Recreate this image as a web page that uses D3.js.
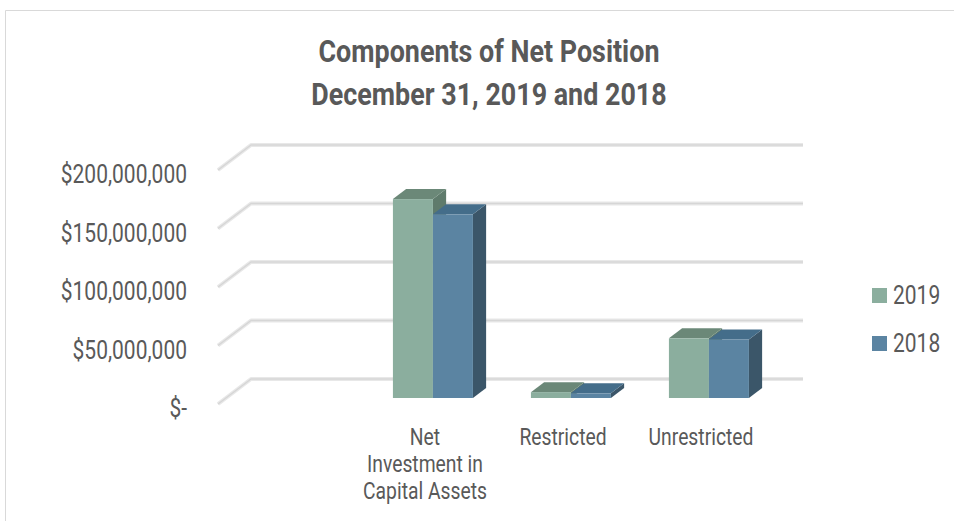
<!DOCTYPE html>
<html>
<head>
<meta charset="utf-8">
<script src="https://cdn.jsdelivr.net/npm/d3@7"></script>
<style>
  html, body { margin: 0; padding: 0; background: #fff; }
  svg { display: block; }
  text { font-family: "Roboto", "Liberation Sans", sans-serif; fill: #595959; }
</style>
</head>
<body>
<svg id="chart" width="954" height="521"></svg>
<script>
// Net position components, in dollars
const categories = ["", "Net Investment in Capital Assets", "Restricted", "Unrestricted"];
const categoryLines = [[], ["Net", "Investment in", "Capital Assets"], ["Restricted"], ["Unrestricted"]];
const seriesNames = ["2019", "2018"];
const values2019 = [null, 170000000, 5000000, 51000000];
const values2018 = [null, 157000000, 4000000, 50000000];
const tickValues = [0, 50000000, 100000000, 150000000, 200000000];
const tickLabels = ["$-", "$50,000,000", "$100,000,000", "$150,000,000", "$200,000,000"];

const colors = {
  "2019": { front: "#8bae9e", top: "#6b8878", side: "#5f7b6c" },
  "2018": { front: "#5b84a2", top: "#446d8a", side: "#3b5669" }
};

const svg = d3.select("#chart");

// narrow type: text squeezed horizontally around its anchor point
const NARROW = 0.84;
function label(parent, x, y, str, size, anchor, weight) {
  const g = parent.append("g").attr("transform", `translate(${x},${y}) scale(${NARROW},1)`);
  g.append("text").attr("x", 0).attr("y", 0)
    .attr("text-anchor", anchor || "start")
    .style("font-size", size + "px")
    .style("font-weight", weight || "normal")
    .text(str);
  return g;
}

// chart frame
svg.append("path")
  .attr("d", "M5.5,521 L5.5,10.5 L954,10.5")
  .attr("fill", "none").attr("stroke", "#d9d9d9").attr("stroke-width", 1);

// title
label(svg, 489, 62, "Components of Net Position", 32, "middle", "bold");
label(svg, 489, 105, "December 31, 2019 and 2018", 32, "middle", "bold");

// oblique 3D projection: front floor plane and depth offset
const depthX = 33, depthY = -25;
const depth = f => [depthX * f, depthY * f];

const x = d3.scaleBand().domain(categories).range([218, 770]).paddingInner(0).paddingOuter(0);
const xs = d3.scaleBand().domain(seriesNames).range([0, 80]);
const y = d3.scaleLinear().domain([0, 200000000]).range([404, 170]);

// gridlines: floor diagonal + back wall
const [bx, by] = depth(1);
const grid = svg.append("g");
tickValues.forEach(v => {
  const yy = y(v);
  const p = `M${x.range()[0]},${yy} L${x.range()[0] + bx},${yy + by} L${x.range()[1] + bx},${yy + by}`;
  grid.append("path").attr("d", p).attr("fill", "none")
    .attr("stroke", "#e8e8e8").attr("stroke-width", 4).attr("stroke-linejoin", "round");
  grid.append("path").attr("d", p).attr("fill", "none")
    .attr("stroke", "#d6d6d6").attr("stroke-width", 1.5).attr("stroke-linejoin", "round");
});

// y axis labels
const yAxis = svg.append("g");
tickValues.forEach((v, i) => label(yAxis, 187, y(v) + 13, tickLabels[i], 25, "end"));

// bars sit between these depth fractions
const f0 = 0.24, f1 = 0.64;
const [ox, oy] = depth(f0);
const [ex, ey] = depth(f1);
const ddx = ex - ox, ddy = ey - oy;

const seriesValues = { "2019": values2019, "2018": values2018 };
const bars = svg.append("g");
categories.forEach((c, ci) => {
  seriesNames.forEach(s => {
    const v = seriesValues[s][ci];
    if (v == null) return;
    const x0 = x(c) + (x.bandwidth() - 80) / 2 + xs(s) + ox;
    const x1 = x0 + xs.bandwidth();
    const yt = y(v) + oy, yb = y(0) + oy;
    const col = colors[s];
    const g = bars.append("g");
    g.append("path")
      .attr("d", `M${x1},${yt} L${x1 + ddx},${yt + ddy} L${x1 + ddx},${yb + ddy} L${x1},${yb} Z`)
      .attr("fill", col.side);
    g.append("path")
      .attr("d", `M${x0},${yt} L${x1},${yt} L${x1 + ddx},${yt + ddy} L${x0 + ddx},${yt + ddy} Z`)
      .attr("fill", col.top);
    g.append("rect")
      .attr("x", x0).attr("y", yt).attr("width", x1 - x0).attr("height", yb - yt)
      .attr("fill", col.front);
  });
});

// category labels
const cat = svg.append("g");
categories.forEach((c, ci) => {
  categoryLines[ci].forEach((line, li) => {
    label(cat, x(c) + x.bandwidth() / 2, 445 + li * 27, line, 23, "middle");
  });
});

// legend
const legend = svg.append("g");
seriesNames.forEach((s, i) => {
  const ly = 295 + i * 48;
  legend.append("rect").attr("x", 872).attr("y", ly - 7).attr("width", 15).attr("height", 15)
    .attr("fill", colors[s].front);
  label(legend, 893, ly + 9, s, 25, "start");
});
</script>
</body>
</html>
